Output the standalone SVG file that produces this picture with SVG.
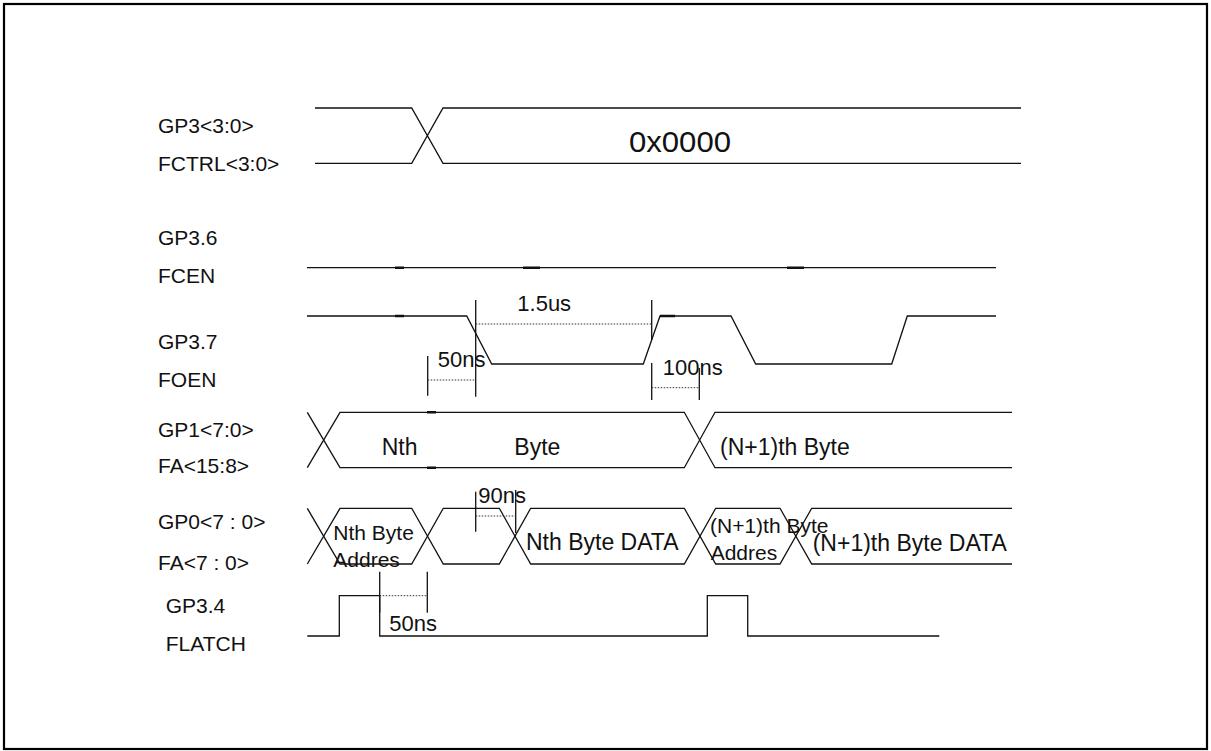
<svg xmlns="http://www.w3.org/2000/svg" width="1211" height="751" viewBox="0 0 1211 751">
<style>
.w{fill:none;stroke:#111;stroke-width:1.3}
.k{fill:none;stroke:#111;stroke-width:2.4}
.d{fill:none;stroke:#333;stroke-width:1;stroke-dasharray:1.5 1.5}
.m{fill:none;stroke:#111;stroke-width:1.3}
text{font-family:"Liberation Sans",Arial,sans-serif;fill:#111}
.lb{font-size:21px}
.an{font-size:22px}
</style>
<rect x="4" y="4" width="1203" height="745" fill="#fff" stroke="#000" stroke-width="2.2"/>

<g id="gp3-bus">
<text class="lb" x="158" y="133">GP3&lt;3:0&gt;</text>
<text class="lb" x="158" y="171">FCTRL&lt;3:0&gt;</text>
<path class="w" d="M315,108 H411.7 L443,163.3 H1021 M315,163.3 H411.7 L443,108 H1021"/>
<text x="629" y="152" font-size="30" textLength="102" lengthAdjust="spacingAndGlyphs">0x0000</text>
</g>

<g id="fcen">
<text class="lb" x="158" y="245">GP3.6</text>
<text class="lb" x="158" y="283">FCEN</text>
<path class="w" d="M307,267.7 H996"/>
<path class="k" d="M395,267.7 H404 M523,267.7 H540 M787,267.7 H804"/>
</g>

<g id="foen">
<text class="lb" x="158" y="349">GP3.7</text>
<text class="lb" x="158" y="387">FOEN</text>
<path class="w" d="M307,316 H466.7 L491.7,364 H643.3 L660,316 H731 L755.7,364 H891.7 L907.3,316 H996"/>
<path class="k" d="M395,316 H404 M660,316 H675"/>
</g>

<g id="gp1-bus">
<text class="lb" x="158" y="437">GP1&lt;7:0&gt;</text>
<text class="lb" x="158" y="473">FA&lt;15:8&gt;</text>
<path class="w" d="M307.3,412.3 L340,467.7 H684.3 L715,412.3 H1012 M307.3,467.7 L340,412.3 H684.3 L715,467.7 H1012"/>
<path class="k" d="M427,412.3 H436 M427,467.7 H436"/>
<text x="381.7" y="455" font-size="23">Nth</text>
<text x="514.3" y="455" font-size="23">Byte</text>
<text x="720" y="455" font-size="23">(N+1)th Byte</text>
</g>

<g id="gp0-bus">
<text class="lb" x="158" y="529">GP0&lt;7 : 0&gt;</text>
<text class="lb" x="158" y="570">FA&lt;7 : 0&gt;</text>
<path class="w" d="M307.3,508.3 L340,564 H411.7 L443.3,508.3 H499.3 L530.7,564 H684.3 L715.7,508.3 H780 L811.7,564 H1012"/>
<path class="w" d="M307.3,564 L340,508.3 H411.7 L443.3,564 H499.3 L530.7,508.3 H684.3 L715.7,564 H780 L811.7,508.3 H1012"/>
<text class="lb" x="333.3" y="540">Nth Byte</text>
<text class="lb" x="333.3" y="566.7">Addres</text>
<text x="526" y="550" font-size="23">Nth Byte DATA</text>
<text class="lb" x="710" y="533.3">(N+1)th Byte</text>
<text class="lb" x="710.7" y="560">Addres</text>
<text x="812.7" y="551" font-size="23">(N+1)th Byte DATA</text>
</g>

<g id="flatch">
<text class="lb" x="165.7" y="613">GP3.4</text>
<text class="lb" x="165.7" y="651">FLATCH</text>
<path class="w" d="M307.3,636 H339.3 V595.7 H379.7 V636 H707.3 V595.7 H747.7 V636 H939.3"/>
</g>

<g id="connectors">
<g id="t-1-5us">
<path class="m" d="M475.7,300 V396.7 M651.7,300 V340"/>
<path class="d" d="M475.7,324 H651.7"/>
<text class="an" x="517.3" y="311">1.5us</text>
</g>
<g id="t-50ns-a">
<path class="m" d="M427.7,356 V395.7"/>
<path class="d" d="M427.7,380 H475.7"/>
<text class="an" x="437.7" y="367.3">50ns</text>
</g>
<g id="t-100ns">
<path class="m" d="M651.7,363 V400 M699.3,368 V400"/>
<path class="d" d="M651.7,387.7 H699.3"/>
<text class="an" x="662.7" y="375">100ns</text>
</g>
<g id="t-90ns">
<path class="m" d="M475.7,491.7 V531.7 M515.7,490 V533"/>
<path class="d" d="M475.7,516 H515.7"/>
<text class="an" x="478.3" y="502.7">90ns</text>
</g>
<g id="t-50ns-b">
<path class="m" d="M379.7,571.7 V612.7 M427.3,571.7 V612.7"/>
<path class="d" d="M379.7,595.7 H427.3"/>
<text class="an" x="389.3" y="630.7">50ns</text>
</g>
</g>
</svg>
